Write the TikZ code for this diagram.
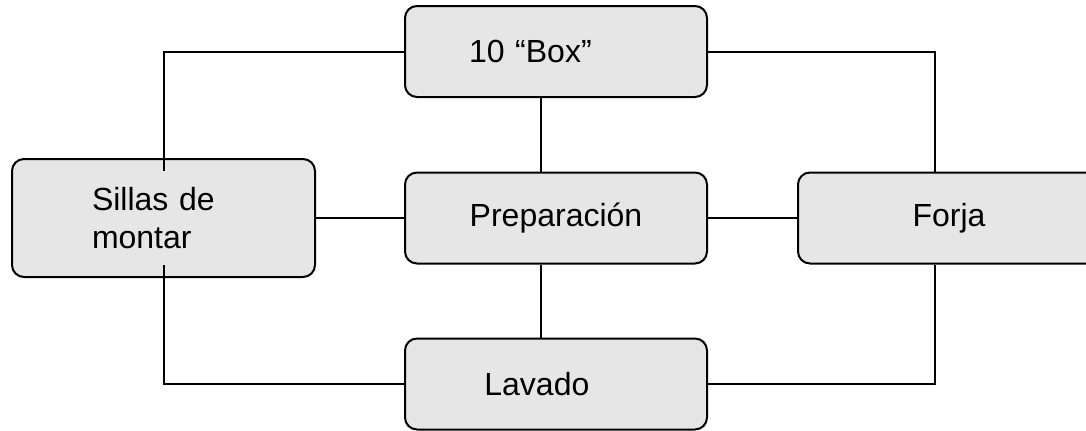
\documentclass[tikz,border=0pt]{standalone}
\usepackage{fontspec}
\setmainfont{Liberation Sans}
\definecolor{cajagris}{RGB}{230,230,230}

\begin{document}
\begin{tikzpicture}[
    x = 0.5pt, y = -0.5pt,
    caja/.style = {draw = black, fill = cajagris, line width = 1pt,
        rounded corners = 6pt, minimum width = 151pt, minimum height = 45.5pt,
        font = \fontsize{16}{19}\selectfont},
    linea/.style = {line width = 1pt}]

\useasboundingbox (0,0) rectangle (1086,430);

% cajas
\node[caja, text width = 87pt, inner xsep = 32pt, align = left] (box) at (556,51.5) {10 “Box”};
\node[caja] (prep) at (556,218) {Preparación};
\node[caja, text width = 71.6pt, inner xsep = 39.7pt, align = left] (lavado) at (556,384) {Lavado};
\node[caja] (forja) at (949,218) {Forja};
\node[caja, minimum width = 151.5pt, minimum height = 59pt,
      text width = 71.5pt, inner xsep = 40pt, align = left] (sillas) at (163.5,218) {Sillas de\\ montar};

% extremos de las lineas que entran en la caja de sillas
\coordinate (sillasarriba) at ([yshift=-6.5pt]sillas.north);
\coordinate (sillasabajo) at ([yshift=6.5pt]sillas.south);

% conexiones
\draw[linea] (box.west) -| (sillasarriba);
\draw[linea] (box.east) -| ([xshift=-7pt]forja.north);
\draw[linea] ([xshift=-7.5pt]box.south) -- ([xshift=-7.5pt]prep.north);
\draw[linea] (sillas.east) -- (prep.west);
\draw[linea] (prep.east) -- (forja.west);
\draw[linea] ([xshift=-7.5pt]prep.south) -- ([xshift=-7.5pt]lavado.north);
\draw[linea] (sillasabajo) |- (lavado.west);
\draw[linea] ([xshift=-7pt]forja.south) |- (lavado.east);
\end{tikzpicture}
\end{document}
